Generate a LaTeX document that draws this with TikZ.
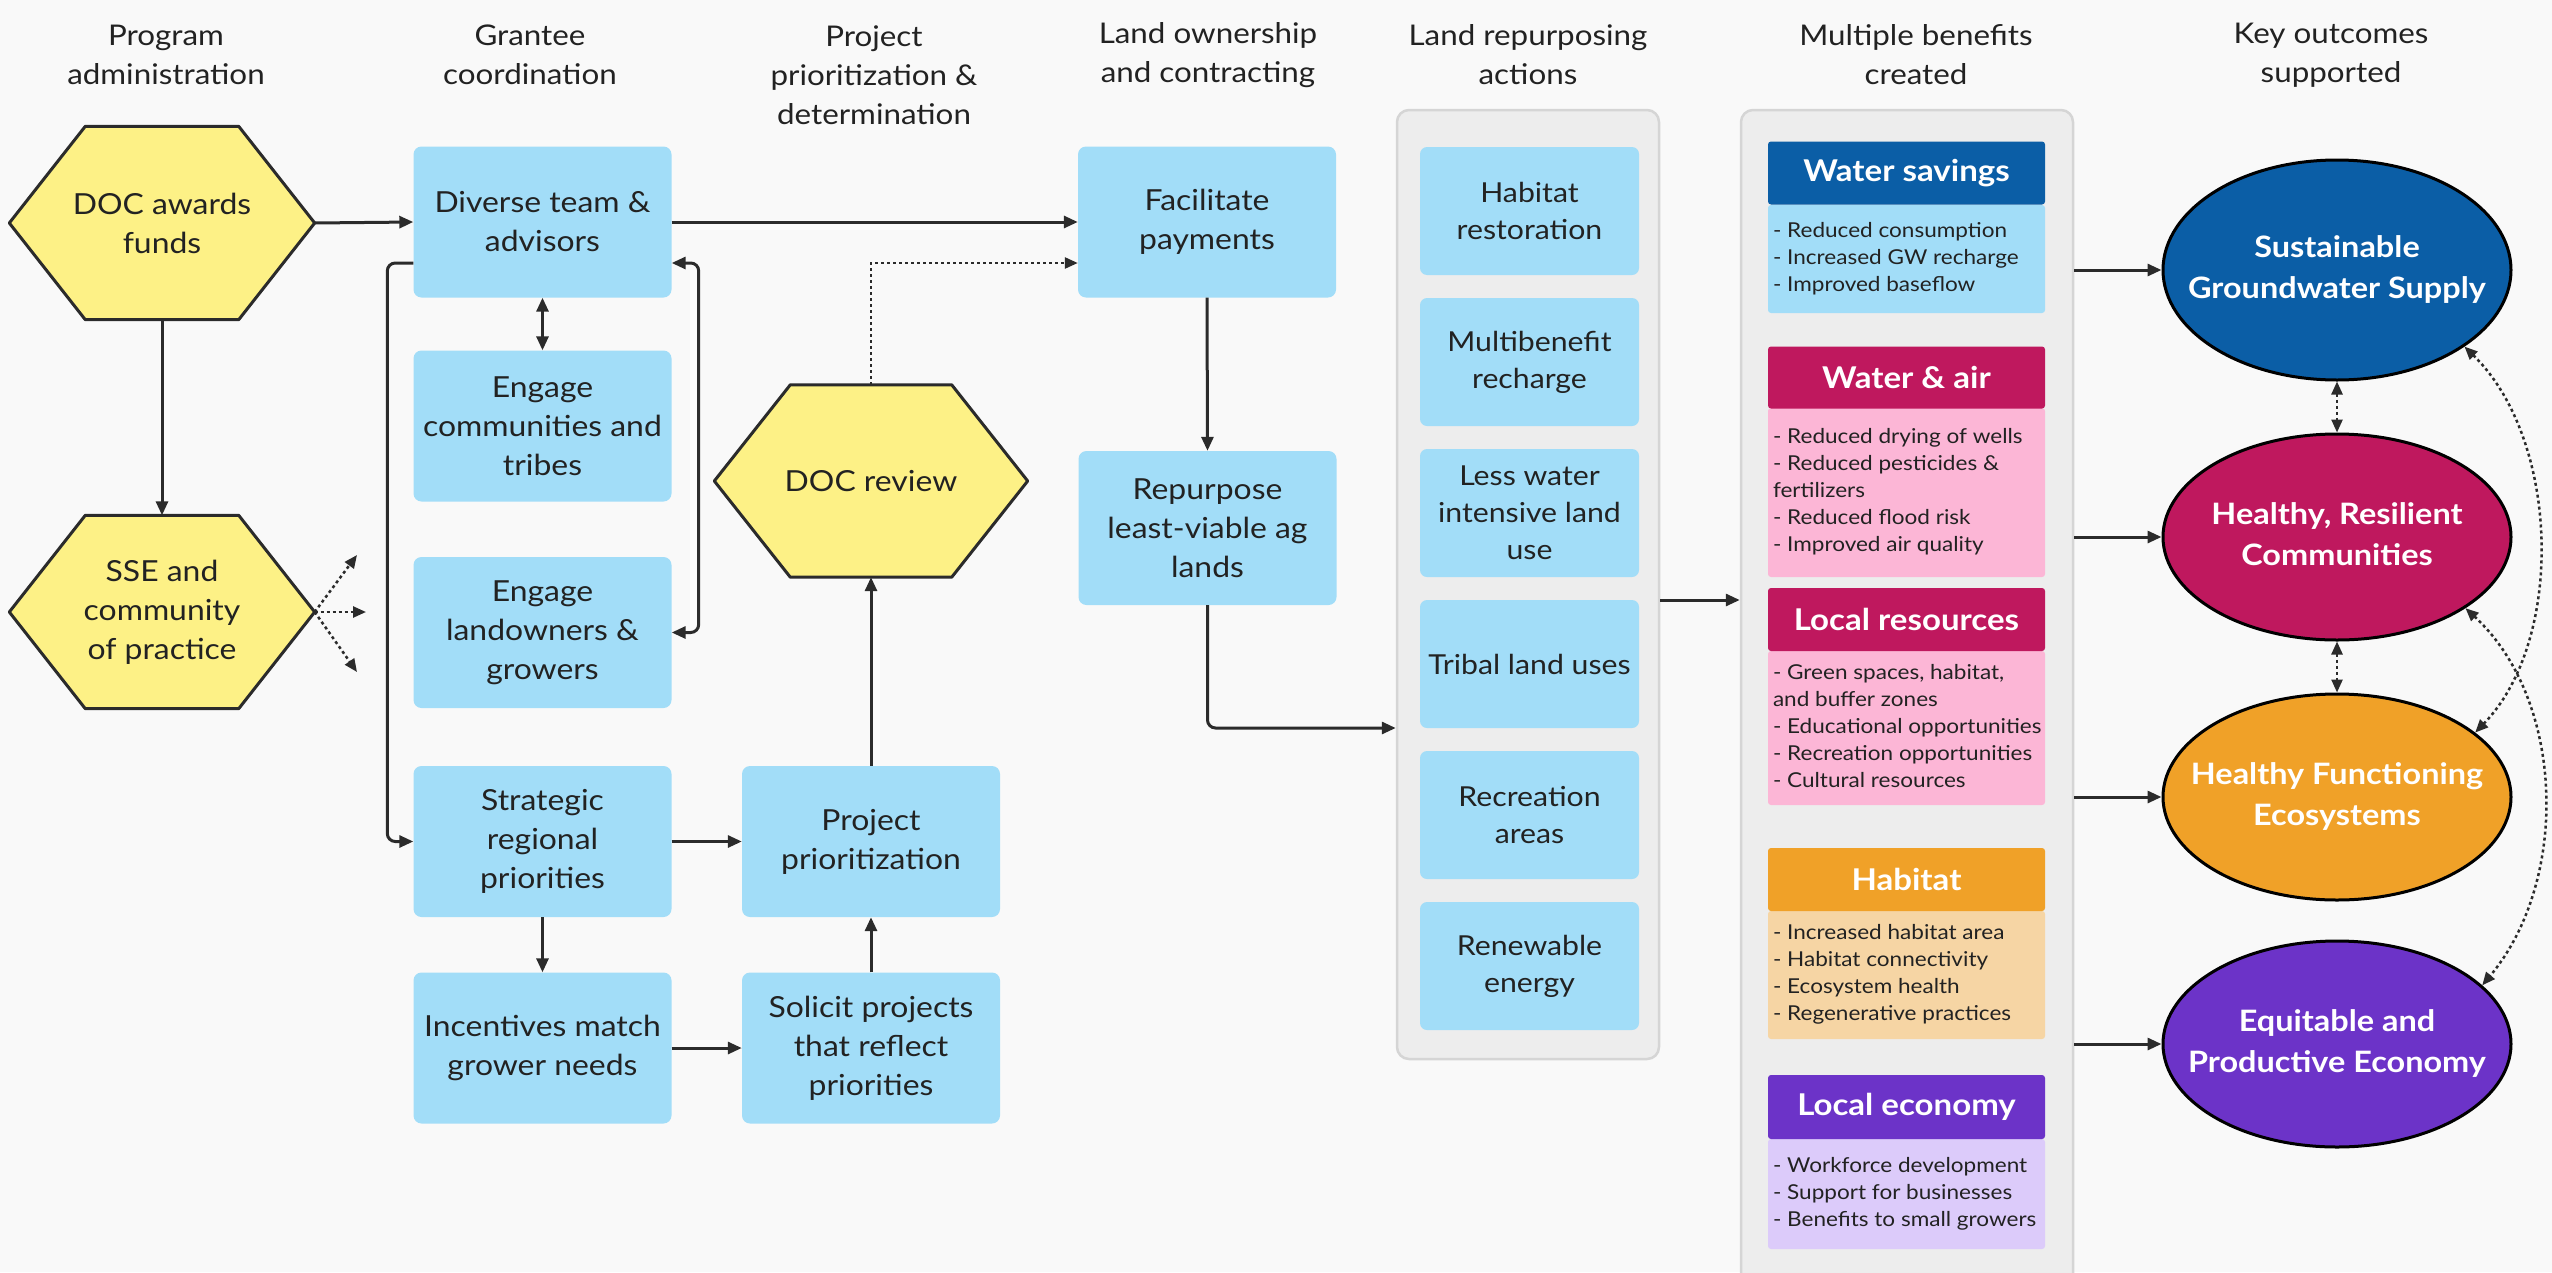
\documentclass[tikz,border=0pt]{standalone}
\usepackage{fontspec}
\setmainfont{Lato}[FakeStretch=1.1]
\usetikzlibrary{arrows.meta,shapes.geometric,calc}
\definecolor{bgc}{HTML}{F9F9F9}
\definecolor{boxb}{HTML}{A2DDF8}
\definecolor{hexy}{HTML}{FDF186}
\definecolor{txt}{HTML}{222222}
\definecolor{ln}{HTML}{2B2B2B}
\definecolor{pnl}{HTML}{EDEDED}
\definecolor{pnlb}{HTML}{D5D5D5}
\definecolor{cblue}{HTML}{0B5EA6}
\definecolor{cmag}{HTML}{BF185E}
\definecolor{corg}{HTML}{F0A128}
\definecolor{cpur}{HTML}{6C33C8}
\definecolor{lblue}{HTML}{A2DDF8}
\definecolor{lpink}{HTML}{FCB6D6}
\definecolor{lorg}{HTML}{F6D5A4}
\definecolor{lpur}{HTML}{DCCBFA}
\pgfdeclarelayer{bglayer}
\pgfdeclarelayer{hexlayer}
\pgfsetlayers{bglayer,hexlayer,main}
\newcommand{\ctext}[1]{\makebox[0pt]{\begin{tabular}{@{}c@{}}#1\end{tabular}}}
\newcommand{\ltext}[1]{\makebox[267pt][l]{\begin{tabular}{@{}l@{}}#1\end{tabular}}}
\tikzset{
  hdr/.style={align=center, font=\fontsize{28.5}{39}\selectfont, text=txt, inner sep=0pt},
  box/.style={rectangle, rounded corners=8pt, fill=boxb, minimum width=258, minimum height=151, align=center, font=\fontsize{29}{39}\selectfont, text=txt, inner sep=0pt},
  rbox/.style={box, minimum width=219, minimum height=128, font=\fontsize{27.5}{37}\selectfont, rounded corners=7pt},
  hexn/.style={rectangle, minimum width=305, minimum height=193, align=center, font=\fontsize{29}{39}\selectfont, text=txt, inner sep=0pt},
  hexd/.style={draw=ln, fill=hexy, line width=3pt, line join=round},
  panel/.style={rectangle, rounded corners=12pt, fill=pnl, draw=pnlb, line width=2.5pt},
  chead/.style={rectangle, rounded corners=3pt, minimum width=277, minimum height=63, font=\bfseries\fontsize{30}{36}\selectfont, text=white, inner sep=0pt},
  cbody/.style={rectangle, rounded corners=3pt, minimum width=277, inner xsep=5pt, inner ysep=0pt, font=\fontsize{20.5}{27}\selectfont, text=txt},
  outc/.style={ellipse, draw=black, line width=3pt, minimum width=348, minimum height=206, font=\bfseries\fontsize{29.5}{41}\selectfont, text=white, inner sep=0pt},
  arr/.style={draw=ln, line width=3pt, -{Triangle[length=14pt,width=12pt]}},
  arrb/.style={draw=ln, line width=3pt, {Triangle[length=14pt,width=12pt]}-{Triangle[length=14pt,width=12pt]}},
  dotarr/.style={draw=ln, line width=2.5pt, dash pattern=on 3pt off 3pt, -{Triangle[length=13pt,width=11pt]}},
  dotarrb/.style={draw=ln, line width=2.5pt, dash pattern=on 3pt off 3pt, {Triangle[length=13pt,width=11pt]}-{Triangle[length=13pt,width=11pt]}}
}
\begin{document}
\begin{tikzpicture}[x=1pt,y=-1pt]
\useasboundingbox (0,0) rectangle (2552,1272);
\begin{pgfonlayer}{bglayer}
\fill[bgc] (0,0) rectangle (2552,1272);
\end{pgfonlayer}

% headers
\node[hdr] (h1) at (166,55) {Program\\administration};
\node[hdr] (h2) at (530,55) {Grantee\\coordination};
\node[hdr] (h3) at (874,75) {Project\\prioritization \&\\determination};
\node[hdr] (h4) at (1208,55) {Land ownership\\and contracting};
\node[hdr] (h5) at (1528,55) {Land repurposing\\actions};
\node[hdr] (h6) at (1916,55) {Multiple benefits\\created};
\node[hdr] (h7) at (2331,55) {Key outcomes\\supported};

% hexagons (text nodes)
\node[hexn] (doc) at (162,223) {DOC awards\\funds};
\node[hexn] (sse) at (162,612) {SSE and\\community\\of practice};
\node[hexn, minimum width=313, minimum height=192] (docrev) at (871,481) {DOC review};
\begin{pgfonlayer}{hexlayer}
\foreach \h in {doc,sse,docrev}
  \draw[hexd] (\h.west) -- ([xshift=76pt]\h.north west) -- ([xshift=-76pt]\h.north east) -- (\h.east) -- ([xshift=-76pt]\h.south east) -- ([xshift=76pt]\h.south west) -- cycle;
\end{pgfonlayer}

% grantee boxes
\node[box] (diverse) at (542.5,222) {Diverse team \&\\advisors};
\node[box] (engcomm) at (542.5,426) {Engage\\communities and\\tribes};
\node[box] (england) at (542.5,632.5) {Engage\\landowners \&\\growers};
\node[box] (strat) at (542.5,841.5) {Strategic\\regional\\priorities};
\node[box] (incent) at (542.5,1048) {Incentives match\\grower needs};
\node[box] (projprio) at (871,841.5) {Project\\prioritization};
\node[box] (solicit) at (871,1048) {Solicit projects\\that reflect\\priorities};
\node[box] (facil) at (1207,222) {Facilitate\\payments};
\node[box, minimum height=154] (repurp) at (1207.5,528) {Repurpose\\least-viable ag\\lands};

% repurposing panel
\node[panel, minimum width=262, minimum height=949] (reppanel) at (1528,584.5) {};
\node[rbox] (r1) at (1529.5,211) {Habitat\\restoration};
\node[rbox] (r2) at (1529.5,362) {Multibenefit\\recharge};
\node[rbox] (r3) at (1529.5,513) {Less water\\intensive land\\use};
\node[rbox] (r4) at (1529.5,664) {Tribal land uses};
\node[rbox] (r5) at (1529.5,815) {Recreation\\areas};
\node[rbox] (r6) at (1529.5,966) {Renewable\\energy};

% benefits panel
\node[panel, minimum width=332, minimum height=1200] (benpanel) at (1907,710) {};
\node[cbody, fill=lblue, minimum height=108] (b1) at (1906.5,259) {\ltext{- Reduced consumption\\- Increased GW recharge\\- Improved baseflow}};
\node[chead, fill=cblue] (c1) at (1906.5,173) {Water savings};
\node[cbody, fill=lpink, minimum height=169] (b2) at (1906.5,492.5) {\ltext{- Reduced drying of wells\\- Reduced pesticides \&\\fertilizers\\- Reduced flood risk\\- Improved air quality}};
\node[chead, fill=cmag, minimum height=62] (c2) at (1906.5,377.5) {Water \& air};
\node[cbody, fill=lpink, minimum height=154] (b3) at (1906.5,728) {\ltext{- Green spaces, habitat,\\and buffer zones\\- Educational opportunities\\- Recreation opportunities\\- Cultural resources}};
\node[chead, fill=cmag] (c3) at (1906.5,619.5) {Local resources};
\node[cbody, fill=lorg, minimum height=128] (b4) at (1906.5,975) {\ltext{- Increased habitat area\\- Habitat connectivity\\- Ecosystem health\\- Regenerative practices}};
\node[chead, fill=corg] (c4) at (1906.5,879.5) {Habitat};
\node[cbody, fill=lpur, minimum height=110] (b5) at (1906.5,1194) {\ltext{- Workforce development\\- Support for businesses\\- Benefits to small growers}};
\node[chead, fill=cpur, minimum height=64] (c5) at (1906.5,1107) {Local economy};

% outcomes
\node[outc, fill=cblue, minimum height=220] (sgs) at (2337,270) {\ctext{Sustainable\\Groundwater Supply}};
\node[outc, fill=cmag] (hrc) at (2337,537) {\ctext{Healthy, Resilient\\Communities}};
\node[outc, fill=corg] (hfe) at (2337,797) {\ctext{Healthy Functioning\\Ecosystems}};
\node[outc, fill=cpur] (epe) at (2337,1044) {\ctext{Equitable and\\Productive Economy}};

% connectors
\draw[arr] (doc.east) -- (diverse.west);
\draw[arr] (doc.south) -- (sse.north);
\draw[arr] (diverse.east) -- (facil.west);
\draw[arrb] (diverse.south) -- (engcomm.north);
\draw[arr, rounded corners=8pt] ([yshift=-41pt]diverse.west) -- ++(-26,0) |- (strat.west);
\draw[arrb, rounded corners=8pt] ([yshift=-41pt]diverse.east) -- ++(27,0) |- (england.east);
\draw[dotarr] (docrev.north) |- ([yshift=-41pt]facil.west);
\draw[arr] (facil.south) -- (repurp.north);
\coordinate (rpy) at (0,728);
\draw[arr, rounded corners=8pt] (repurp.south) |- (reppanel.west |- rpy);
\draw[arr] (strat.east) -- (projprio.west);
\draw[arr] (strat.south) -- (incent.north);
\draw[arr] (incent.east) -- (solicit.west);
\draw[arr] (solicit.north) -- (projprio.south);
\draw[arr] (projprio.north) -- (docrev.south);
\coordinate (s1) at (357,555);
\coordinate (s2) at (366,612);
\coordinate (s3) at (357,672);
\draw[dotarr] (sse.east) -- (s1);
\draw[dotarr] (sse.east) -- (s2);
\draw[dotarr] (sse.east) -- (s3);
\coordinate (py) at (0,600);
\draw[arr] (reppanel.east |- py) -- (benpanel.west |- py);
\draw[arr] (benpanel.east |- sgs) -- (sgs.west);
\draw[arr] (benpanel.east |- hrc) -- (hrc.west);
\draw[arr] (benpanel.east |- hfe) -- (hfe.west);
\draw[arr] (benpanel.east |- epe) -- (epe.west);
\draw[dotarrb] (sgs.south) -- (hrc.north);
\draw[dotarrb] (hrc.south) -- (hfe.north);
\draw[dotarrb] (sgs.-31) .. controls (2560,440) and (2565,640) .. (hfe.25);
\draw[dotarrb] (hrc.-29) .. controls (2565,700) and (2570,880) .. (epe.22);
\end{tikzpicture}
\end{document}
